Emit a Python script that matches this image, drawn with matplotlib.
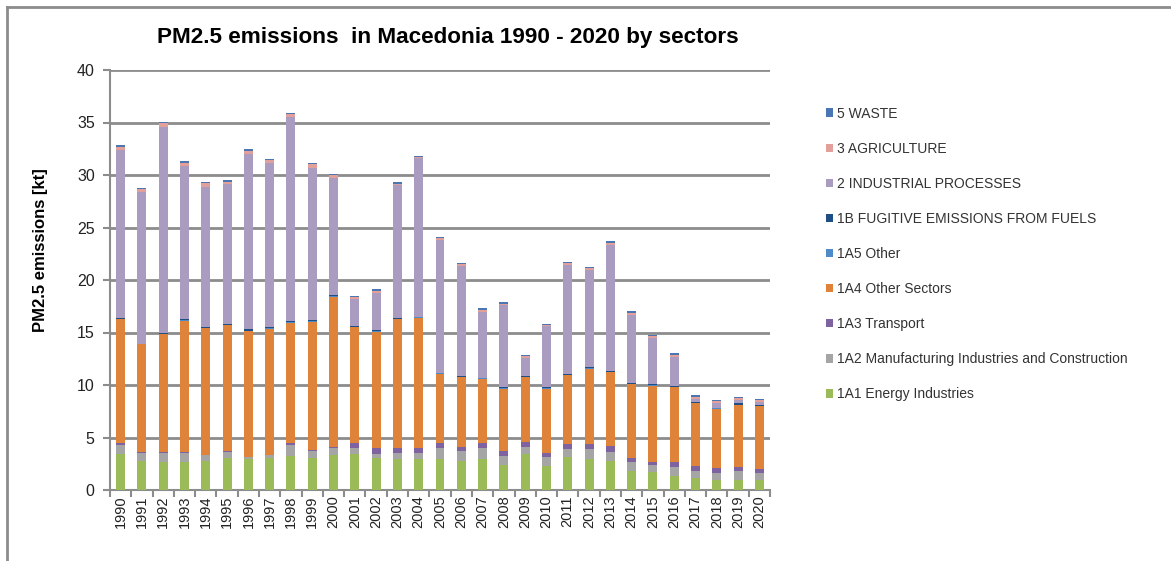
"""
PM2.5 emissions in Macedonia 1990 - 2020, stacked by sector.
"""
import matplotlib
matplotlib.use('Agg')
import matplotlib.pyplot as plt
import numpy as np
from matplotlib.lines import Line2D

plt.rcParams['font.family'] = ['Liberation Sans', 'DejaVu Sans']

years = [str(y) for y in range(1990, 2021)]

# sector values [kt]
energy = [3.43, 2.76, 2.70, 2.70, 2.76, 3.02, 2.95, 3.02, 3.24, 3.02, 3.30,
          3.46, 3.02, 2.92, 2.92, 2.92, 2.79, 2.92, 2.38, 3.46, 2.25,
          3.13, 2.99, 2.73, 1.78, 1.69, 1.37, 1.11, 0.92, 0.92, 0.92]
manufacturing = [0.86, 0.73, 0.79, 0.86, 0.57, 0.57, 0.19, 0.31, 1.05, 0.73, 0.67,
                 0.51, 0.41, 0.64, 0.64, 1.05, 0.96, 1.05, 0.86, 0.67, 0.86,
                 0.82, 0.95, 0.89, 0.86, 0.73, 0.82, 0.67, 0.70, 0.86, 0.73]
transport = [0.15, 0.10, 0.13, 0.05, 0.05, 0.12, 0.05, 0.05, 0.15, 0.05, 0.13,
             0.47, 0.54, 0.41, 0.41, 0.47, 0.35, 0.47, 0.44, 0.44, 0.45,
             0.47, 0.45, 0.55, 0.44, 0.22, 0.51, 0.54, 0.48, 0.41, 0.35]
other_sectors = [11.85, 10.28, 11.24, 12.52, 12.02, 12.00, 11.98, 11.99, 11.50, 12.23, 14.31,
                 11.05, 11.11, 12.32, 12.44, 6.64, 6.63, 6.16, 5.97, 6.19, 6.09,
                 6.52, 7.18, 7.09, 6.97, 7.31, 7.13, 5.98, 5.66, 5.92, 5.98]
other_1a5 = [0.02] * 31
fugitive = [0.10, 0.06, 0.08, 0.14, 0.08, 0.08, 0.11, 0.10, 0.14, 0.14, 0.14,
            0.11, 0.10, 0.10, 0.08, 0.08, 0.11, 0.08, 0.11, 0.06, 0.11,
            0.08, 0.08, 0.09, 0.10, 0.11, 0.06, 0.06, 0.06, 0.11, 0.08]
industrial = [16.0, 14.4, 19.6, 14.6, 13.4, 13.3, 16.7, 15.7, 19.4, 14.5, 11.1,
              2.6, 3.6, 12.6, 15.1, 12.6, 10.5, 6.3, 7.8, 1.7, 5.8,
              10.4, 9.3, 12.0, 6.5, 4.4, 2.8, 0.32, 0.45, 0.30, 0.26]
agriculture = [0.30, 0.32, 0.36, 0.27, 0.34, 0.27, 0.32, 0.26, 0.31, 0.37, 0.29,
               0.16, 0.18, 0.15, 0.12, 0.20, 0.20, 0.19, 0.18, 0.19, 0.15,
               0.18, 0.18, 0.20, 0.22, 0.19, 0.19, 0.19, 0.14, 0.19, 0.19]
waste = [0.12, 0.12, 0.14, 0.13, 0.13, 0.13, 0.12, 0.10, 0.13, 0.12, 0.14,
         0.13, 0.12, 0.13, 0.12, 0.10, 0.10, 0.12, 0.12, 0.12, 0.12,
         0.12, 0.10, 0.12, 0.12, 0.10, 0.12, 0.12, 0.12, 0.13, 0.13]

sectors = [
    ('1A1 Energy Industries', energy, '#9bbb59'),
    ('1A2 Manufacturing Industries and Construction', manufacturing, '#a5a5a5'),
    ('1A3 Transport', transport, '#7f62a0'),
    ('1A4 Other Sectors', other_sectors, '#df833b'),
    ('1A5 Other', other_1a5, '#4f8bc9'),
    ('1B FUGITIVE EMISSIONS FROM FUELS', fugitive, '#1f4e85'),
    ('2 INDUSTRIAL PROCESSES', industrial, '#a99cc0'),
    ('3 AGRICULTURE', agriculture, '#e3a09a'),
    ('5 WASTE', waste, '#4a77b4'),
]

fig = plt.figure(figsize=(11.71, 5.61), dpi=100)
ax = fig.add_axes([110 / 1171, 1 - 490 / 561, 660 / 1171, 420 / 561])

x = np.arange(len(years))
bottom = np.zeros(len(years))
for name, vals, color in sectors:
    ax.bar(x, vals, width=0.42, bottom=bottom, color=color, label=name,
           zorder=3, linewidth=0)
    bottom += np.array(vals)

ax.set_xlim(-0.5, len(years) - 0.5)
ax.set_ylim(0, 40)
ax.set_yticks(range(0, 41, 5))
ax.yaxis.grid(True, color='#8c8c8c', linewidth=2, zorder=0)
ax.set_axisbelow(True)

ax.set_xticks(x)
ax.set_xticklabels(years, rotation=90, fontsize=10.5, color='#222222')
ax.set_xticks(np.arange(-0.5, len(years), 1), minor=True)
ax.tick_params(axis='x', which='major', length=0, pad=4)
ax.tick_params(axis='x', which='minor', length=5, width=1.5, color='#8c8c8c')
ax.tick_params(axis='y', length=5, width=1.5, color='#8c8c8c',
               labelsize=11.5, labelcolor='#222222', pad=6)

for side in ['top', 'right']:
    ax.spines[side].set_visible(False)
for side in ['left', 'bottom']:
    ax.spines[side].set_color('#8c8c8c')
    ax.spines[side].set_linewidth(1.5)

ax.set_ylabel('PM2.5 emissions [kt]', fontsize=12, fontweight='bold')
ax.yaxis.set_label_coords(-62 / 660, 0.571)
fig.text(448 / 1171, 1 - 37 / 561, 'PM2.5 emissions  in Macedonia 1990 - 2020 by sectors',
         ha='center', va='center', fontsize=16.2, fontweight='bold')

handles, labels = ax.get_legend_handles_labels()
fig.legend(handles[::-1], labels[::-1], loc='upper left',
           bbox_to_anchor=(820 / 1171, 1 - 101 / 561), frameon=False,
           fontsize=10, handlelength=0.55, handleheight=0.55, handletextpad=0.3,
           labelspacing=1.52, borderaxespad=0, labelcolor='#333333')

# outer chart border
fig.add_artist(Line2D([7 / 1171, 1], [1 - 7 / 561] * 2, color='#8c8c8c', lw=2))
fig.add_artist(Line2D([7 / 1171] * 2, [0, 1 - 7 / 561], color='#8c8c8c', lw=2))

fig.savefig('out.png', dpi=100)
